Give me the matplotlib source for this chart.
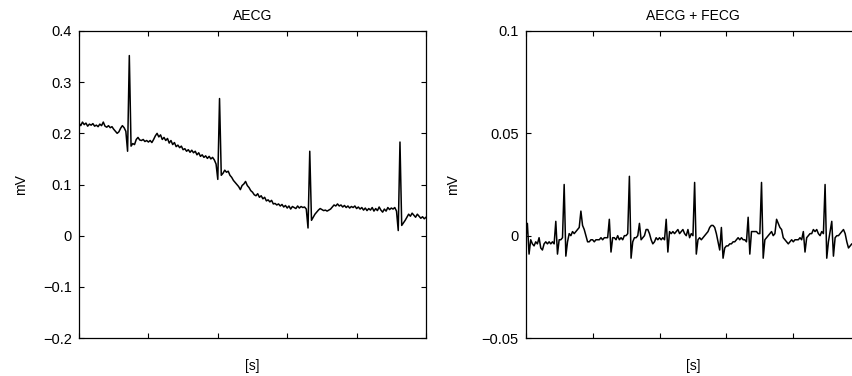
import numpy as np
import matplotlib
matplotlib.use("Agg")
import matplotlib.pyplot as plt

plt.rcParams['font.family'] = ['Liberation Sans', 'DejaVu Sans']

# sample positions (arbitrary units, no x tick labels in the original)
t = np.arange(0, 1001, 5)

# abdominal ECG, mV
aecg = [
    0.220, 0.215, 0.222, 0.217, 0.220, 0.214, 0.218, 0.216, 0.219, 0.214,
    0.216, 0.213, 0.218, 0.215, 0.222, 0.214, 0.212, 0.215, 0.211, 0.213,
    0.208, 0.204, 0.200, 0.203, 0.210, 0.215, 0.211, 0.204, 0.165, 0.352,
    0.175, 0.180, 0.178, 0.188, 0.192, 0.187, 0.186, 0.188, 0.184, 0.186,
    0.183, 0.186, 0.182, 0.188, 0.195, 0.200, 0.193, 0.197, 0.188, 0.192,
    0.186, 0.190, 0.181, 0.186, 0.178, 0.182, 0.174, 0.177, 0.172, 0.175,
    0.168, 0.170, 0.165, 0.168, 0.163, 0.167, 0.162, 0.165, 0.158, 0.162,
    0.155, 0.158, 0.153, 0.156, 0.151, 0.155, 0.150, 0.153, 0.148, 0.140,
    0.110, 0.268, 0.118, 0.122, 0.128, 0.124, 0.126, 0.118, 0.114, 0.108,
    0.104, 0.100, 0.096, 0.090, 0.098, 0.101, 0.106, 0.098, 0.094, 0.088,
    0.085, 0.080, 0.078, 0.082, 0.075, 0.078, 0.072, 0.075, 0.068, 0.070,
    0.066, 0.069, 0.062, 0.063, 0.060, 0.062, 0.058, 0.061, 0.056, 0.059,
    0.054, 0.058, 0.052, 0.057, 0.055, 0.053, 0.058, 0.054, 0.057, 0.055,
    0.056, 0.052, 0.015, 0.165, 0.030, 0.036, 0.042, 0.046, 0.050, 0.053,
    0.051, 0.049, 0.050, 0.048, 0.050, 0.052, 0.056, 0.060, 0.058, 0.062,
    0.058, 0.060, 0.056, 0.059, 0.055, 0.058, 0.054, 0.057, 0.055, 0.058,
    0.053, 0.056, 0.052, 0.055, 0.050, 0.054, 0.049, 0.053, 0.050, 0.055,
    0.048, 0.053, 0.049, 0.056, 0.050, 0.046, 0.052, 0.048, 0.055, 0.051,
    0.054, 0.052, 0.055, 0.048, 0.010, 0.183, 0.020, 0.025, 0.030, 0.036,
    0.042, 0.038, 0.044, 0.040, 0.036, 0.042, 0.038, 0.034, 0.037, 0.033,
    0.036,
]

# AECG + FECG, mV
mixed = [
    -0.002, 0.006, -0.009, -0.002, -0.004, -0.005, -0.003, -0.004, -0.001, -0.006,
    -0.007, -0.004, -0.003, -0.004, -0.003, -0.004, -0.003, -0.004, 0.007, -0.009,
    -0.002, -0.002, -0.001, 0.025, -0.010, -0.003, 0.001, 0.000, 0.002, 0.001,
    0.002, 0.003, 0.004, 0.012, 0.005, 0.003, 0.000, -0.003, -0.003, -0.002,
    -0.002, -0.003, -0.002, -0.002, -0.002, -0.001, -0.002, -0.001, -0.001, -0.001,
    0.008, -0.008, -0.001, -0.001, -0.002, 0.000, -0.002, -0.001, -0.002, 0.000,
    0.000, 0.001, 0.029, -0.011, -0.003, -0.001, -0.001, 0.000, 0.006, -0.002,
    -0.001, 0.000, 0.003, 0.003, 0.001, -0.002, -0.004, -0.003, -0.001, -0.002,
    -0.001, -0.002, -0.001, -0.002, 0.008, -0.008, 0.002, 0.001, 0.002, 0.001,
    0.002, 0.003, 0.001, 0.002, 0.003, 0.001, 0.000, 0.003, -0.001, 0.001,
    0.000, 0.026, -0.009, -0.002, -0.001, -0.002, -0.001, 0.000, 0.001, 0.002,
    0.004, 0.005, 0.005, 0.004, 0.001, -0.003, -0.007, 0.004, -0.011, -0.006,
    -0.005, -0.005, -0.004, -0.004, -0.003, -0.003, -0.002, -0.001, -0.002, -0.001,
    -0.002, -0.002, -0.003, 0.009, -0.009, 0.002, 0.002, 0.002, 0.002, 0.001,
    0.001, 0.026, -0.011, -0.002, -0.001, 0.000, 0.001, 0.002, 0.000, 0.001,
    0.008, 0.006, 0.004, 0.003, -0.001, -0.002, -0.003, -0.004, -0.003, -0.002,
    -0.003, -0.002, -0.002, -0.002, -0.001, -0.002, 0.002, -0.008, -0.001, 0.000,
    0.001, 0.001, 0.003, 0.002, 0.003, 0.001, 0.000, 0.002, 0.001, 0.025,
    -0.011, -0.003, 0.002, 0.007, -0.010, -0.001, 0.000, 0.000, 0.001, 0.002,
    0.003, 0.001, -0.003, -0.006, -0.005, -0.004, -0.004, -0.005, -0.004, -0.004,
    -0.005,
]


def style(ax, ylim, yticks, ylabels, ylab_x):
    ax.set_xlim(0, 1000)
    ax.set_ylim(*ylim)
    ax.set_xticks(np.arange(0, 1001, 200))
    ax.set_xticklabels([])
    ax.set_yticks(yticks)
    ax.set_yticklabels(ylabels)
    ax.tick_params(direction='in', length=3.5, width=0.8, top=True, right=True,
                   labelsize=10.5, pad=5)
    for s in ax.spines.values():
        s.set_linewidth(0.9)
    ax.set_xlabel('[s]', fontsize=10)
    ax.xaxis.set_label_coords(0.5, -0.068)
    ax.set_ylabel('mV', fontsize=10)
    ax.yaxis.set_label_coords(ylab_x, 0.5)


fig = plt.figure(figsize=(8.52, 3.76), dpi=100)

ax1 = fig.add_axes([79 / 852, 38 / 376, 347 / 852, 307 / 376])
ax1.plot(t, aecg, color='black', lw=1.1)
style(ax1, (-0.2, 0.4), [-0.2, -0.1, 0, 0.1, 0.2, 0.3, 0.4],
      ['\u22120.2', '\u22120.1', '0', '0.1', '0.2', '0.3', '0.4'], -0.148)
ax1.set_title('AECG', fontsize=10, pad=8)

ax2 = fig.add_axes([525.7 / 852, 38 / 376, 334.5 / 852, 307 / 376])
ax2.plot(t, mixed, color='black', lw=1.1)
style(ax2, (-0.05, 0.1), [-0.05, 0, 0.05, 0.1],
      ['\u22120.05', '0', '0.05', '0.1'], -0.195)
ax2.set_title('AECG + FECG', fontsize=10, pad=8)

fig.savefig('out.png', dpi=100)
